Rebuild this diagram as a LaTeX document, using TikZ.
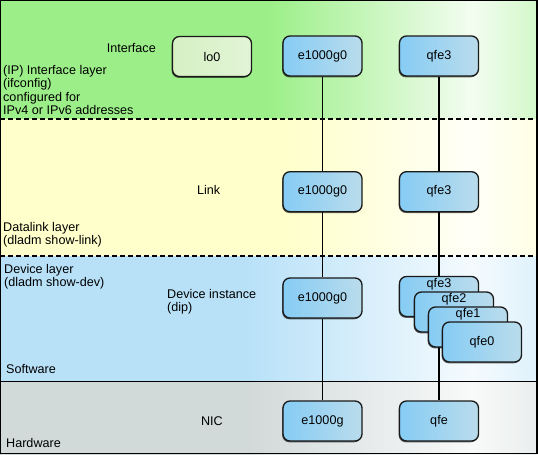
\documentclass[tikz,border=0pt]{standalone}
\usepackage{fontspec}
\setmainfont{Liberation Sans}
\usetikzlibrary{shadows}

\definecolor{grn}{RGB}{156,239,136}
\definecolor{ylw}{RGB}{255,255,204}
\definecolor{blu}{RGB}{184,225,248}
\definecolor{gry}{RGB}{210,217,217}
\colorlet{grnhi}{grn!12}\colorlet{grnend}{grn!45}
\colorlet{ylwhi}{ylw!15}\colorlet{ylwend}{ylw!50}
\colorlet{bluhi}{blu!15}\colorlet{bluend}{blu!45}
\colorlet{gryhi}{gry!15}\colorlet{gryend}{gry!45}
\definecolor{devl}{RGB}{134,204,244}
\definecolor{devm}{RGB}{156,200,228}
\definecolor{devr}{RGB}{186,220,236}
\definecolor{lol}{RGB}{214,240,196}
\definecolor{lom}{RGB}{208,232,192}
\definecolor{lor}{RGB}{226,244,214}

\pgfdeclarehorizontalshading{grnband}{100bp}{color(0bp)=(grn); color(50bp)=(grn); color(69bp)=(grnhi); color(75bp)=(grnend); color(100bp)=(grnend)}
\pgfdeclarehorizontalshading{ylwband}{100bp}{color(0bp)=(ylw); color(52bp)=(ylw); color(69bp)=(ylwhi); color(75bp)=(ylwend); color(100bp)=(ylwend)}
\pgfdeclarehorizontalshading{bluband}{100bp}{color(0bp)=(blu); color(48bp)=(blu); color(69bp)=(bluhi); color(75bp)=(bluend); color(100bp)=(bluend)}
\pgfdeclarehorizontalshading{gryband}{100bp}{color(0bp)=(gry); color(48bp)=(gry); color(69bp)=(gryhi); color(75bp)=(gryend); color(100bp)=(gryend)}

\newcommand\lblsize{\fontsize{12.6}{13.5}\selectfont}

\pgfdeclarelayer{bands}
\pgfdeclarelayer{wires}
\pgfsetlayers{bands,wires,main}

\tikzset{
  txt/.style={font=\lblsize, inner sep=0pt},
  dev/.style={draw=black!90, line width=1.3pt, rounded corners=7pt,
    minimum width=79pt, minimum height=40pt, inner sep=0pt, font=\lblsize,
    left color=devl, middle color=devm, right color=devr,
    drop shadow={shadow xshift=-0.8pt, shadow yshift=-1.3pt, opacity=0.6, fill=black}},
  lonode/.style={dev, left color=lol, middle color=lom, right color=lor},
  toplbl/.style={font=\lblsize, anchor=north, inner sep=2.2pt},
  wire/.style={line width=1.1pt},
  layerline/.style={line width=1.2pt}
}

\begin{document}
\begin{tikzpicture}[x=1pt, y=-1pt]
  \useasboundingbox (0,0) rectangle (538,455);

  %Bands
  \begin{pgfonlayer}{bands}
    \shade[shading=grnband] (0,0) rectangle (537,119);
    \shade[shading=ylwband] (0,119) rectangle (537,256);
    \shade[shading=bluband] (0,256) rectangle (537,381.5);
    \shade[shading=gryband] (0,381.5) rectangle (537,454);
    \draw[layerline, dash pattern=on 5pt off 3pt] (0,119) -- (537,119);
    \draw[layerline, dash pattern=on 5pt off 3pt] (0,256) -- (537,256);
    \draw[layerline] (0,381.5) -- (537,381.5);
    \draw[line width=1.4pt] (0.7,0.7) rectangle (536.8,453.6);
  \end{pgfonlayer}

  %Nodes
  \node[lonode] (lo)    at (212,56.5)  {lo0};
  \node[dev]    (ipE)   at (322.5,56)  {e1000g0};
  \node[dev]    (ipQ)   at (439,56)    {qfe3};
  \node[dev]    (lnkE)  at (322.5,191.7) {e1000g0};
  \node[dev]    (lnkQ)  at (439,191.7) {qfe3};
  \node[dev]    (devE)  at (322.5,298) {e1000g0};
  \node[dev, label={[toplbl]north:qfe3}] (devQ3) at (439,296.5) {};
  \node[dev, label={[toplbl]north:qfe2}] (devQ2) at (454,312)   {};
  \node[dev, label={[toplbl]north:qfe1}] (devQ1) at (468,327)   {};
  \node[dev]    (devQ0) at (482,342)   {qfe0};
  \node[dev]    (nicE)  at (322.5,421) {e1000g};
  \node[dev]    (nicQ)  at (439,421)   {qfe};

  %Labels
  \node[txt, anchor=east] (ifname) at (156,48) {Interface};
  \node[txt, anchor=west, align=left] (iplayer) at (3,90)
    {(IP) Interface layer\\(ifconfig)\\configured for\\IPv4 or IPv6 addresses};
  \node[txt, anchor=east] (lnkname) at (220.5,190) {Link};
  \node[txt, anchor=west, align=left] (dllayer) at (3,234.7)
    {Datalink layer\\(dladm show-link)};
  \node[txt, anchor=west, align=left] (devlayer) at (4,276.7)
    {Device layer\\(dladm show-dev)};
  \node[txt, anchor=west, align=left] (devname) at (167,301.8)
    {Device instance\\(dip)};
  \node[txt, anchor=west] (sw) at (6,369) {Software};
  \node[txt, anchor=east] (nicname) at (223,421) {NIC};
  \node[txt, anchor=west] (hw) at (6,443.3) {Hardware};

  %Lines
  \begin{pgfonlayer}{wires}
    \draw[wire] (ipE) -- (lnkE);
    \draw[wire] (lnkE) -- (devE);
    \draw[wire] (devE) -- (nicE);
    \draw[wire] (ipQ) -- (lnkQ);
    \draw[wire] (lnkQ) -- (devQ3);
    \draw[wire] (devQ3) -- (nicQ);
  \end{pgfonlayer}
\end{tikzpicture}
\end{document}
